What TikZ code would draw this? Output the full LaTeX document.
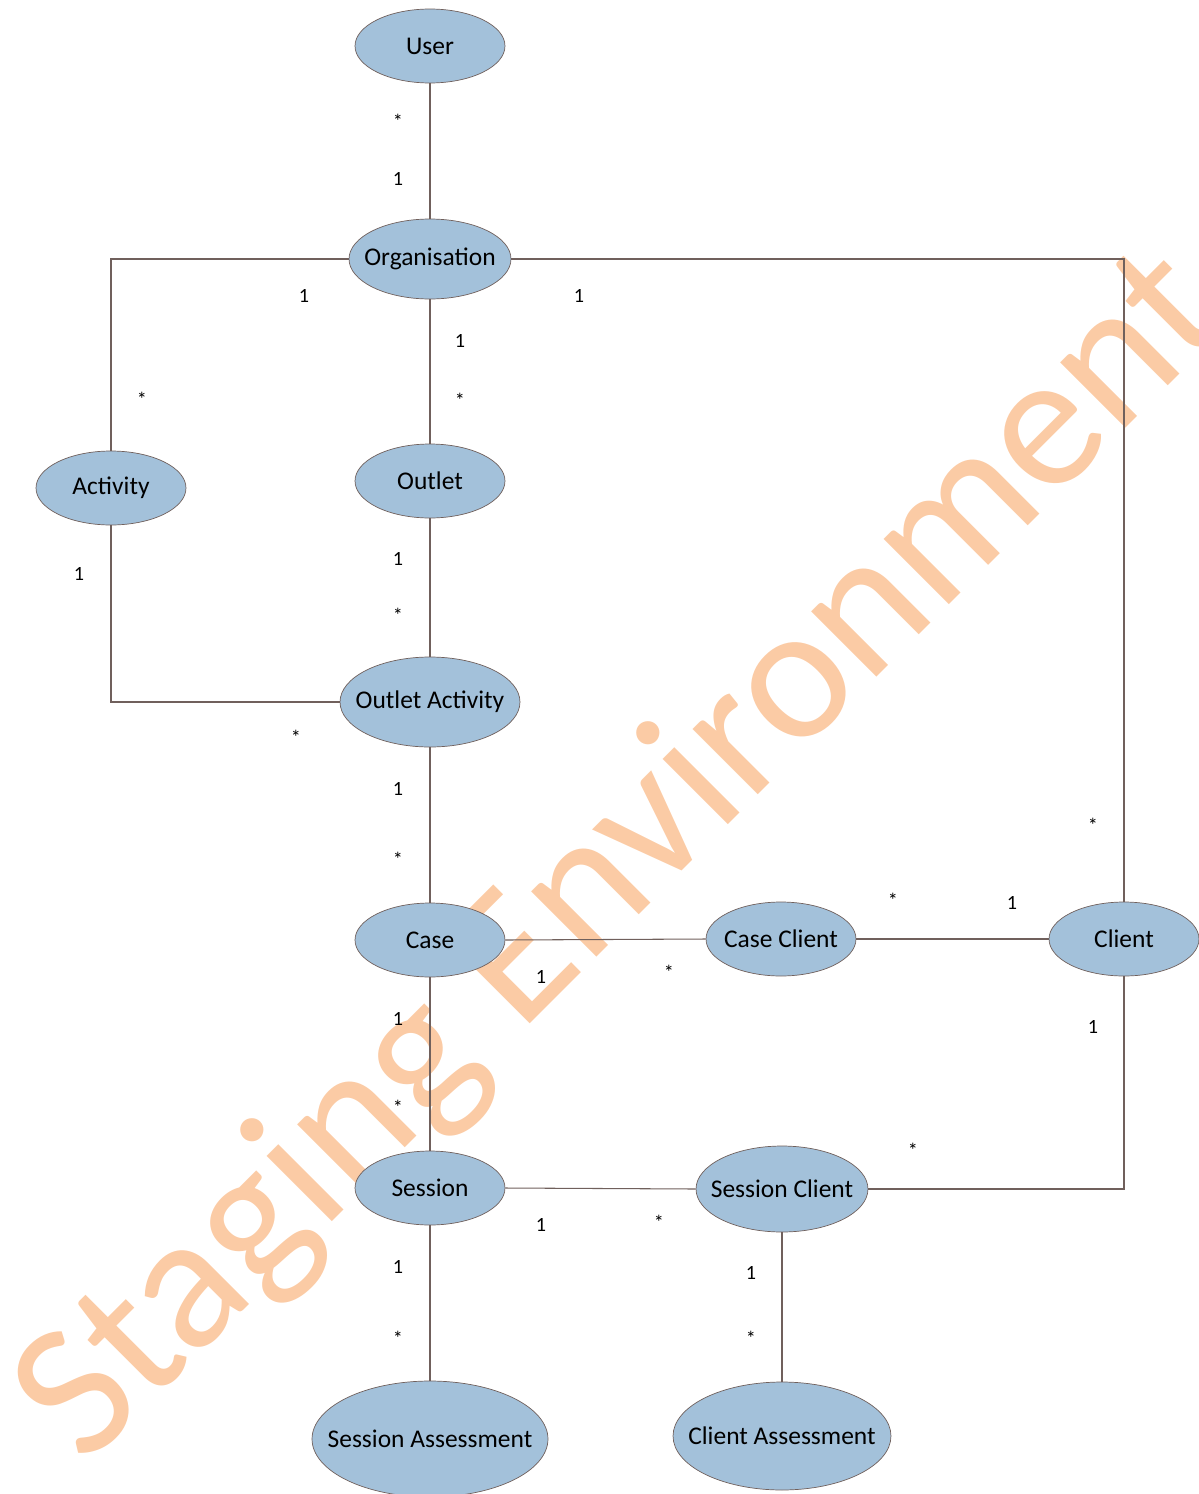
\documentclass[tikz,border=0pt]{standalone}
\usepackage{fontspec}
\setmainfont{Carlito}
\usepackage{xcolor}
\usepackage{tikz}
\usetikzlibrary{shapes.geometric}

\definecolor{entfill}{RGB}{163,193,218}
\definecolor{entline}{RGB}{112,96,92}
\definecolor{wmark}{RGB}{251,203,165}

\tikzset{
  entity/.style={ellipse, draw=entline, fill=entfill, inner xsep=-2cm, inner ysep=0pt,
    minimum width=3cm, minimum height=1.48cm, font=\fontsize{14.5}{16}\selectfont},
  link/.style={draw=entline, line width=0.6pt},
  mult/.style={font=\fontsize{11.5}{12}\selectfont}
}

\begin{document}
\begin{tikzpicture}[x=0.02cm, y=-0.02cm]
\useasboundingbox (0,0) rectangle (1198,1494);

% watermark behind everything
\node[rotate=45, text=wmark, font=\fontsize{110}{120}\selectfont] (wm) at (624,859) {Staging Environment};

% entities
\node[entity] (user) at (430,46) {User};
\node[entity, minimum width=3.24cm, minimum height=1.6cm] (org) at (430,259) {Organisation};
\node[entity] (activity) at (111,488) {Activity};
\node[entity] (outlet) at (430,481) {Outlet};
\node[entity, minimum width=3.6cm, minimum height=1.8cm] (outletact) at (430,702) {Outlet Activity};
\node[entity] (case) at (430,940) {Case};
\node[entity] (caseclient) at (781,939) {Case Client};
\node[entity] (client) at (1124,939) {Client};
\node[entity] (session) at (430,1188) {Session};
\node[entity, minimum width=3.44cm, minimum height=1.72cm] (sessclient) at (782,1189) {Session Client};
\node[entity, minimum width=4.72cm, minimum height=2.32cm] (sessassess) at (430,1439) {Session Assessment};
\node[entity, minimum width=4.36cm, minimum height=2.16cm] (clientassess) at (782,1436) {Client Assessment};

% connectors
\draw[link] (user) -- (org);
\draw[link] (org.west) -| (activity.north);
\draw[link] (org) -- (outlet);
\draw[link] (org.east) -| (client.north);
\draw[link] (activity.south) |- (outletact.west);
\draw[link] (outlet) -- (outletact);
\draw[link] (outletact) -- (case);
\draw[link] (case.east) -- (caseclient.west);
\draw[link] (caseclient) -- (client);
\draw[link] (case) -- (session);
\draw[link] (session.east) -- (sessclient.west);
\draw[link] (client.south) |- (sessclient.east);
\draw[link] (session) -- (sessassess);
\draw[link] (sessclient) -- (clientassess);

% multiplicities
\node[mult] (m1) at (398,121) {*};
\node[mult] (m2) at (398,179) {1};
\node[mult] (m3) at (304,296) {1};
\node[mult] (m4) at (142,399) {*};
\node[mult] (m5) at (460,341) {1};
\node[mult] (m6) at (460,400) {*};
\node[mult] (m7) at (579,296) {1};
\node[mult] (m8) at (1093,825) {*};
\node[mult] (m9) at (79,574) {1};
\node[mult] (m10) at (296,737) {*};
\node[mult] (m11) at (398,559) {1};
\node[mult] (m12) at (398,615) {*};
\node[mult] (m13) at (398,789) {1};
\node[mult] (m14) at (398,859) {*};
\node[mult] (m15) at (541,977) {1};
\node[mult] (m16) at (669,972) {*};
\node[mult] (m17) at (893,900) {*};
\node[mult] (m18) at (1012,903) {1};
\node[mult] (m19) at (398,1019) {1};
\node[mult] (m20) at (398,1107) {*};
\node[mult] (m21) at (541,1225) {1};
\node[mult] (m22) at (659,1222) {*};
\node[mult] (m23) at (1093,1027) {1};
\node[mult] (m24) at (913,1150) {*};
\node[mult] (m25) at (398,1267) {1};
\node[mult] (m26) at (398,1338) {*};
\node[mult] (m27) at (751,1273) {1};
\node[mult] (m28) at (751,1338) {*};

\end{tikzpicture}
\end{document}
